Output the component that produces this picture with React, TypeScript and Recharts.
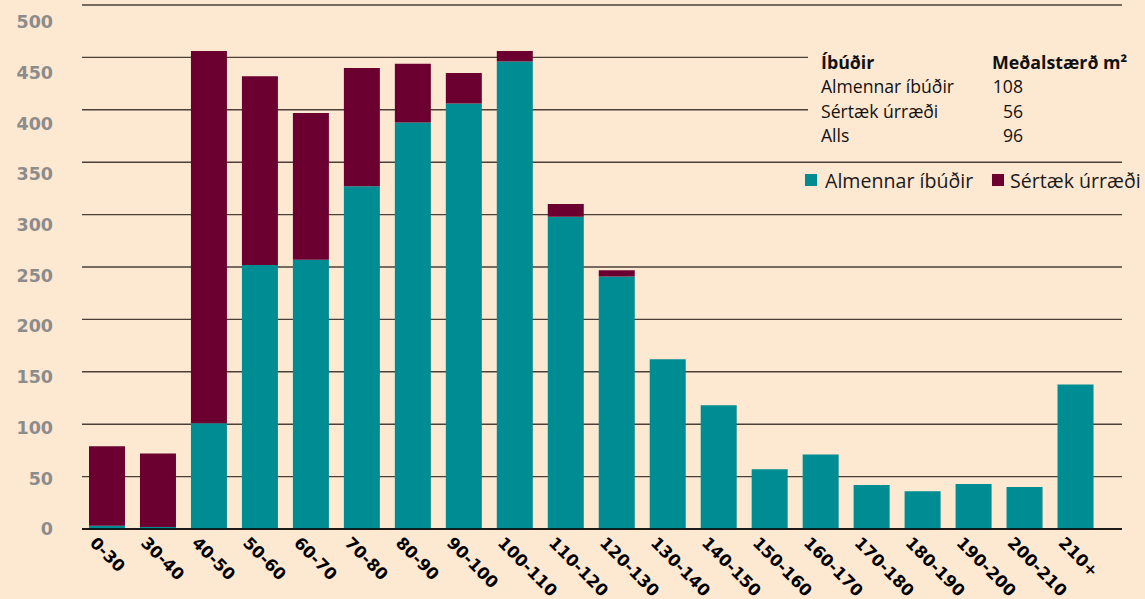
import React from "react";
import { BarChart, Bar, XAxis, YAxis, CartesianGrid, Legend } from "recharts";

const categories = ["0-30","30-40","40-50","50-60","60-70","70-80","80-90","90-100","100-110","110-120","120-130","130-140","140-150","150-160","160-170","170-180","180-190","190-200","200-210","210+"];
const almennar = [3, 2, 101, 252, 257, 327, 388, 406, 446, 298, 241, 162, 118, 57, 71, 42, 36, 43, 40, 138];
const sertaek = [76, 70, 355, 180, 140, 113, 56, 29, 10, 12, 6, 0, 0, 0, 0, 0, 0, 0, 0, 0];
const yTicks = [0, 50, 100, 150, 200, 250, 300, 350, 400, 450, 500];

const tableHeader = ["Íbúðir", "Meðalstærð m²"];
const tableRows: [string, string][] = [
  ["Almennar íbúðir", "108"],
  ["Sértæk úrræði", "56"],
  ["Alls", "96"],
];

const seriesNames = ["Almennar íbúðir", "Sértæk úrræði"];
const TEAL = "#008C93";
const MAROON = "#6B0030";
const BG = "#FDE8D2";

const data = categories.map((c, i) => ({ cat: c, alm: almennar[i], ser: sertaek[i] }));

const XTick = (props: any) => {
  const { x, y, payload } = props;
  return (
    <g transform={`translate(${x - 18.5},${y + 15}) rotate(45)`}>
      <text x={0} y={0} textAnchor="start" fill="#000" fontFamily="DejaVu Sans" fontWeight="bold" fontSize={16.5}>
        {payload.value}
      </text>
    </g>
  );
};

const LegendContent = () => (
  <svg width={345} height={26} style={{ display: "block", overflow: "visible" }}>
    <rect x={5} y={4} width={12} height={12} fill={TEAL} />
    <text x={25} y={17.7} fontFamily="Open Sans" fontSize={19.6} fill="#1a1a1a">{seriesNames[0]}</text>
    <rect x={192} y={4} width={12} height={12} fill={MAROON} />
    <text x={210} y={17.7} fontFamily="Open Sans" fontSize={19.6} fill="#1a1a1a">{seriesNames[1]}</text>
  </svg>
);

export default function App() {
  return (
    <div style={{ position: "absolute", left: 0, top: 0, width: 1145, height: 599, background: BG, overflow: "hidden" }}>
      <BarChart width={1145} height={599} data={data} margin={{ top: 5, right: 23, bottom: 10, left: 0 }}>
        <CartesianGrid yAxisId="main" horizontal vertical={false} stroke="#4a4038" strokeWidth={1.4} />
        <XAxis
          dataKey="cat"
          interval={0}
          height={60}
          padding={{ left: 0, right: 20.5 }}
          tickLine={false}
          tickSize={0}
          tickMargin={0}
          axisLine={{ stroke: "#000", strokeWidth: 1.5 }}
          tick={<XTick />}
        />
        <YAxis yAxisId="main" hide domain={[0, 500]} ticks={yTicks} />
        <YAxis
          yAxisId="lbl"
          width={82}
          domain={[0, 516.75]}
          ticks={yTicks}
          allowDataOverflow
          axisLine={false}
          tickLine={false}
          tickSize={0}
          tickMargin={29}
          tick={{ fill: "#8c8c8c", fontFamily: "DejaVu Sans", fontWeight: "bold", fontSize: 17.5 }}
        />
        <Bar yAxisId="main" dataKey="alm" name={seriesNames[0]} stackId="a" fill={TEAL} barSize={36} isAnimationActive={false} />
        <Bar yAxisId="main" dataKey="ser" name={seriesNames[1]} stackId="a" fill={MAROON} barSize={36} isAnimationActive={false} />
        <Legend
          layout="horizontal"
          verticalAlign="middle"
          align="center"
          content={<LegendContent />}
          wrapperStyle={{ left: 800, top: 170, width: 345, height: 26 }}
        />
      </BarChart>
      <svg width={1145} height={599} style={{ position: "absolute", left: 0, top: 0, pointerEvents: "none" }}>
        <rect x={808} y={30} width={337} height={120} fill={BG} />
        <text x={821} y={69} fontFamily="Open Sans" fontWeight="bold" fontSize={17.8} fill="#111">{tableHeader[0]}</text>
        <text x={992} y={69} fontFamily="Open Sans" fontWeight="bold" fontSize={17.8} fill="#111">{tableHeader[1]}</text>
        {tableRows.map((r, i) => (
          <g key={r[0]}>
            <text x={821} y={93.3 + i * 24.35} fontFamily="Open Sans" fontSize={17.6} fill="#111">{r[0]}</text>
            <text x={1023} y={93.3 + i * 24.35} textAnchor="end" fontFamily="Open Sans" fontSize={17.6} fill="#111">{r[1]}</text>
          </g>
        ))}
      </svg>
    </div>
  );
}
